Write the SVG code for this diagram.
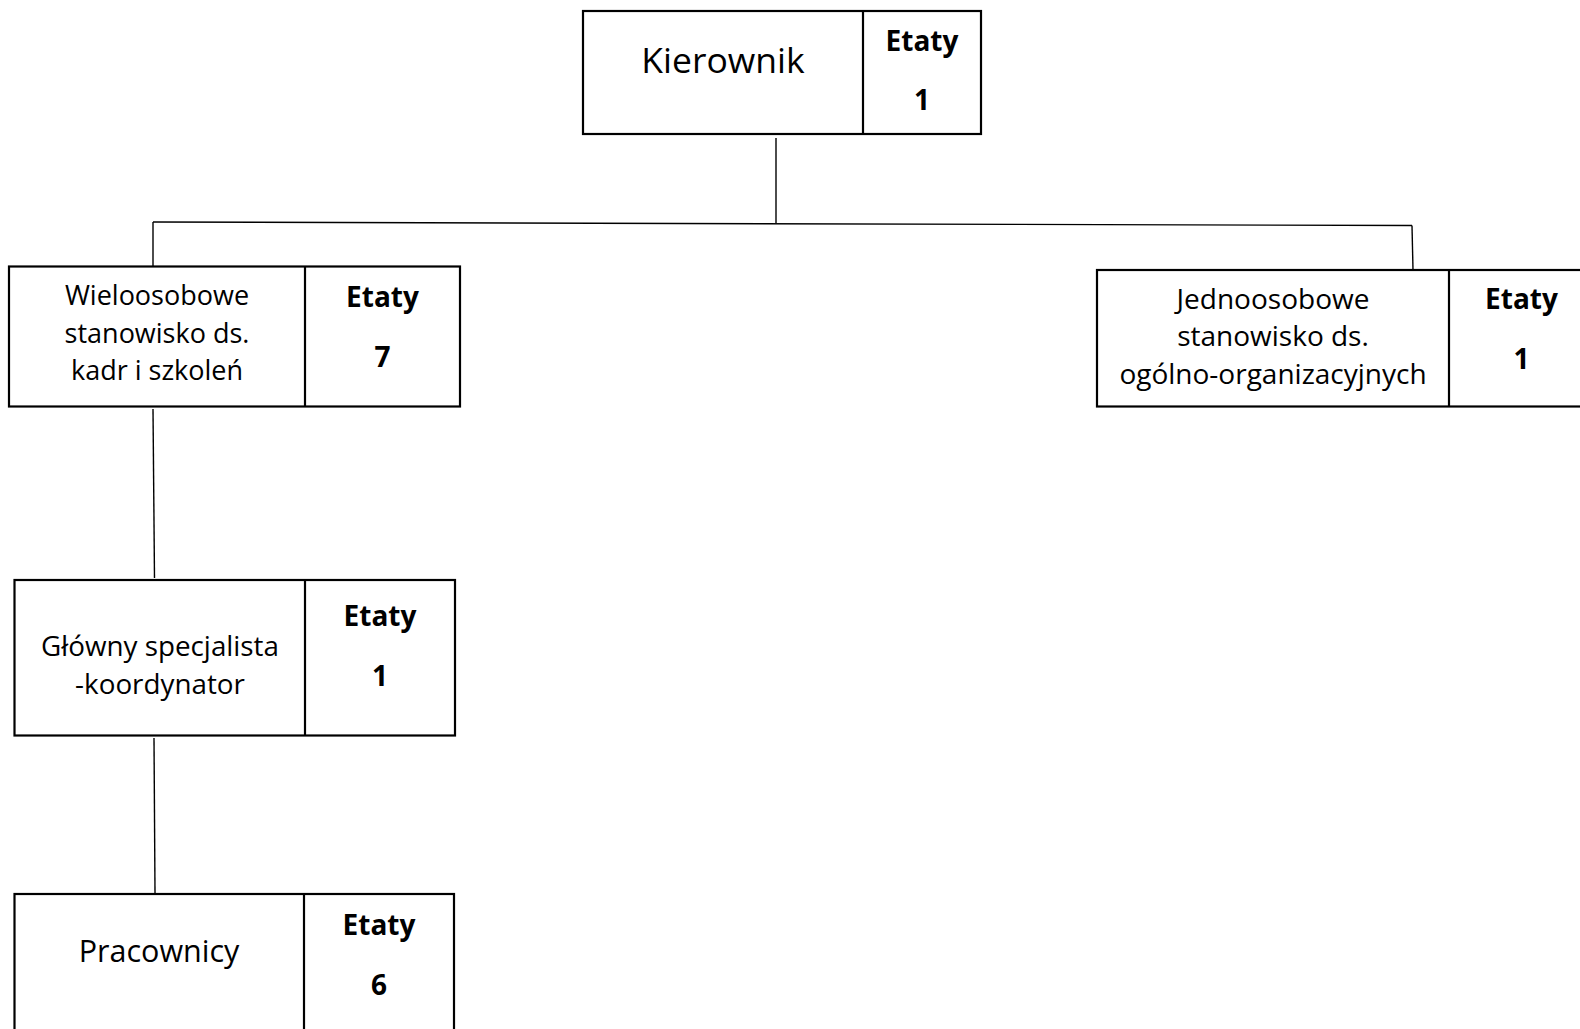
<svg xmlns="http://www.w3.org/2000/svg" width="1580" height="1029" viewBox="0 0 1580 1029">
<style>
.box{fill:#fff;stroke:#000;stroke-width:2.2}
.div{stroke:#000;stroke-width:2.2}
.con line{stroke:#000;stroke-width:1.4}
text{font-family:"Open Sans","Noto Sans","DejaVu Sans",sans-serif;fill:#000;text-anchor:middle}
.lbl{font-size:27px}
.big{font-size:35.5px}
.et{font-size:28px;font-weight:bold}
</style>
<rect width="1580" height="1029" fill="#fff"/>
<g id="connectors" class="con">
<line x1="776" y1="138" x2="776" y2="223"/>
<line x1="153" y1="222" x2="1412" y2="225.5"/>
<line x1="153" y1="222" x2="153" y2="266"/>
<line x1="1412" y1="225.5" x2="1413" y2="270"/>
<line x1="153" y1="409" x2="154.5" y2="578"/>
<line x1="154" y1="738" x2="155" y2="893"/>
</g>
<g id="kierownik">
<rect class="box" x="583" y="11" width="398" height="123"/>
<line class="div" x1="863" y1="11" x2="863" y2="134"/>
<text class="big" x="723" y="73">Kierownik</text>
<text class="et" x="922" y="51">Etaty</text>
<text class="et" x="922" y="110">1</text>
</g>
<g id="wieloosobowe">
<rect class="box" x="9" y="266.5" width="451" height="140"/>
<line class="div" x1="305" y1="266.5" x2="305" y2="406.5"/>
<text class="lbl" x="157" y="305">Wieloosobowe</text>
<text class="lbl" x="157" y="342.5">stanowisko ds.</text>
<text class="lbl" x="157" y="380">kadr i szkoleń</text>
<text class="et" x="382.5" y="307">Etaty</text>
<text class="et" x="382.5" y="366.5">7</text>
</g>
<g id="jednoosobowe">
<rect class="box" x="1097" y="270" width="500" height="136.5"/>
<line class="div" x1="1449" y1="270" x2="1449" y2="406.5"/>
<text class="lbl" x="1273" y="308.5" style="font-size:28px">Jednoosobowe</text>
<text class="lbl" x="1273" y="346" style="font-size:28px">stanowisko ds.</text>
<text class="lbl" x="1273" y="383.5" style="font-size:28px">ogólno-organizacyjnych</text>
<text class="et" x="1521.5" y="309">Etaty</text>
<text class="et" x="1521.5" y="369">1</text>
</g>
<g id="glowny">
<rect class="box" x="14.5" y="580" width="440.5" height="155.5"/>
<line class="div" x1="305" y1="580" x2="305" y2="735.5"/>
<text class="lbl" x="160" y="655.5" style="font-size:27.8px">Główny specjalista</text>
<text class="lbl" x="160" y="693.5" style="font-size:27.8px">-koordynator</text>
<text class="et" x="380" y="625.5">Etaty</text>
<text class="et" x="380" y="686">1</text>
</g>
<g id="pracownicy">
<rect class="box" x="14.5" y="894" width="439.5" height="160"/>
<line class="div" x1="304" y1="894" x2="304" y2="1054"/>
<text class="lbl" x="159" y="962" style="font-size:30.5px">Pracownicy</text>
<text class="et" x="379" y="934.5">Etaty</text>
<text class="et" x="379" y="995">6</text>
</g>
</svg>
